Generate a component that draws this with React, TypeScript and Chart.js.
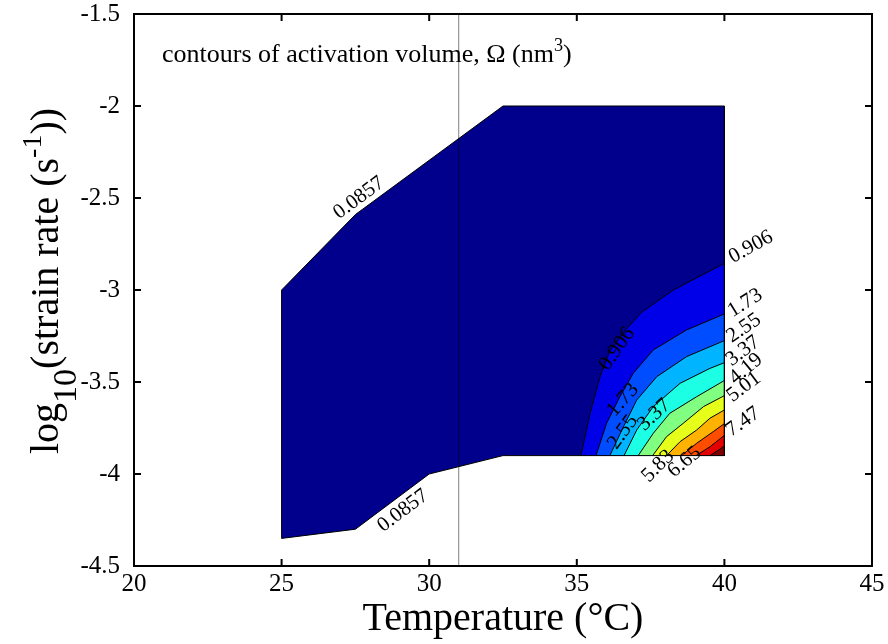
import React, { useEffect, useRef } from 'react';
import { Chart, registerables } from 'chart.js';

Chart.register(...registerables);

// ---------- data ----------
const X_TICKS = [20, 25, 30, 35, 40, 45];
const Y_TICKS = [-4.5, -4, -3.5, -3, -2.5, -2, -1.5];

const LEVELS = ['0.0857', '0.906', '1.73', '2.55', '3.37', '4.19', '5.01', '5.83', '6.65', '7.47', '8.29'];

// jet colours of the filled bands (lowest band first)
const BAND_COLORS = [
  'rgb(0,0,140)', 'rgb(0,0,232)', 'rgb(0,77,255)', 'rgb(0,180,255)', 'rgb(28,255,228)',
  'rgb(128,255,128)', 'rgb(230,255,26)', 'rgb(255,178,0)', 'rgb(255,77,0)', 'rgb(228,0,0)', 'rgb(128,0,0)',
];

// outer 0.0857 contour (data region boundary)
const OUTER_X = [25, 27.5, 32.5, 40, 40, 32.5, 30, 27.5, 25, 25];
const OUTER_Y = [-3.0, -2.59, -2.0, -2.0, -3.9, -3.9, -4.0, -4.3, -4.35, -3.0];

// corner of the region where the inner contours close
const CORNER_X = 40;
const CORNER_Y = -3.9;

// inner contour lines, bottom edge -> right edge
const C0906_X = [35.14, 35.45, 35.79, 36.12, 36.69, 37.2, 38.27, 40];
const C0906_Y = [-3.9, -3.67, -3.47, -3.33, -3.21, -3.12, -3.0, -2.855];
const C173_X = [35.65, 36.01, 36.46, 36.91, 37.59, 38.72, 40];
const C173_Y = [-3.9, -3.724, -3.58, -3.453, -3.326, -3.217, -3.13];
const C255_X = [36.12, 36.58, 37.03, 37.71, 38.72, 40];
const C255_Y = [-3.9, -3.743, -3.598, -3.471, -3.362, -3.275];
const C337_X = [36.6, 37.03, 37.59, 38.5, 39.51, 40];
const C337_Y = [-3.9, -3.761, -3.634, -3.507, -3.426, -3.395];
const C419_X = [37.08, 37.59, 38.15, 39.06, 40];
const C419_Y = [-3.9, -3.779, -3.67, -3.58, -3.492];
const C501_X = [37.57, 38.04, 38.61, 39.29, 40];
const C501_Y = [-3.9, -3.797, -3.724, -3.634, -3.574];
const C583_X = [38.04, 38.5, 39.06, 39.51, 40];
const C583_Y = [-3.9, -3.824, -3.761, -3.697, -3.652];
const C665_X = [38.55, 39.06, 39.62, 40];
const C665_Y = [-3.9, -3.833, -3.77, -3.726];
const C747_X = [39.04, 39.51, 40];
const C747_Y = [-3.9, -3.852, -3.79];
const C829_X = [39.51, 39.8, 40];
const C829_Y = [-3.9, -3.87, -3.848];

const INNER_X = [C0906_X, C173_X, C255_X, C337_X, C419_X, C501_X, C583_X, C665_X, C747_X, C829_X];
const INNER_Y = [C0906_Y, C173_Y, C255_Y, C337_Y, C419_Y, C501_Y, C583_Y, C665_Y, C747_Y, C829_Y];

// reference vertical line
const VLINE_X = 31;

// contour labels: text, anchor (data units), angle (deg)
const LABEL_TEXT = ['0.0857', '0.0857', '0.906', '1.73', '2.55', '3.37', '4.19', '5.01', '7.47', '0.906', '1.73', '2.55', '3.37', '5.83', '6.65'];
const LABEL_X = [27.62, 29.11, 40.9, 40.7, 40.66, 40.63, 40.73, 40.66, 40.63, 36.36, 36.56, 36.56, 37.62, 37.75, 38.65];
const LABEL_Y = [-2.5, -4.2, -2.766, -3.071, -3.207, -3.332, -3.429, -3.527, -3.717, -3.321, -3.598, -3.772, -3.679, -3.957, -3.935];
const LABEL_ANGLE = [-36.5, -37, -29, -32, -34, -37, -40, -37, -35, -55, -48, -54, -43, -45, -40];

const FONT = '"Liberation Serif", "Times New Roman", serif';

type Part = { t: string; s?: number; dy?: number };

function drawRich(ctx: CanvasRenderingContext2D, parts: Part[], x: number, y: number, size: number, align: 'left' | 'center', angle: number) {
  ctx.save();
  ctx.translate(x, y);
  ctx.rotate(angle);
  ctx.textAlign = 'left';
  ctx.textBaseline = 'alphabetic';
  ctx.fillStyle = '#000';
  let total = 0;
  const widths = parts.map((p) => {
    ctx.font = `${size * (p.s ?? 1)}px ${FONT}`;
    const w = ctx.measureText(p.t).width;
    total += w;
    return w;
  });
  let cx = align === 'center' ? -total / 2 : 0;
  parts.forEach((p, i) => {
    ctx.font = `${size * (p.s ?? 1)}px ${FONT}`;
    ctx.fillText(p.t, cx, (p.dy ?? 0) * size);
    cx += widths[i];
  });
  ctx.restore();
}

function polyPath(ctx: CanvasRenderingContext2D, chart: any, xs: number[], ys: number[]) {
  const { x, y } = chart.scales;
  ctx.beginPath();
  xs.forEach((xv, j) => {
    const px = x.getPixelForValue(xv);
    const py = y.getPixelForValue(ys[j]);
    if (j === 0) ctx.moveTo(px, py);
    else ctx.lineTo(px, py);
  });
  ctx.closePath();
}

const fillPlugin = {
  id: 'contourFill',
  beforeDatasetsDraw(chart: any) {
    const { ctx, chartArea } = chart;
    ctx.save();
    ctx.beginPath();
    ctx.rect(chartArea.left, chartArea.top, chartArea.right - chartArea.left, chartArea.bottom - chartArea.top);
    ctx.clip();
    polyPath(ctx, chart, OUTER_X, OUTER_Y);
    ctx.fillStyle = BAND_COLORS[0];
    ctx.fill();
    INNER_X.forEach((xs, k) => {
      polyPath(ctx, chart, [...xs, CORNER_X], [...INNER_Y[k], CORNER_Y]);
      ctx.fillStyle = BAND_COLORS[k + 1];
      ctx.fill();
    });
    ctx.restore();
  },
};

const decoPlugin = {
  id: 'deco',
  afterDraw(chart: any) {
    const { ctx, chartArea } = chart;
    const { left, right, top, bottom } = chartArea;
    const xs = chart.scales.x;
    const ys = chart.scales.y;
    ctx.save();
    // box
    ctx.strokeStyle = '#000';
    ctx.lineWidth = 2;
    ctx.strokeRect(left, top, right - left, bottom - top);
    // inward ticks on all sides
    const tl = 7;
    ctx.lineWidth = 2;
    ctx.beginPath();
    X_TICKS.forEach((v) => {
      const px = xs.getPixelForValue(v);
      ctx.moveTo(px, bottom);
      ctx.lineTo(px, bottom - tl);
      ctx.moveTo(px, top);
      ctx.lineTo(px, top + tl);
    });
    Y_TICKS.forEach((v) => {
      const py = ys.getPixelForValue(v);
      ctx.moveTo(left, py);
      ctx.lineTo(left + tl, py);
      ctx.moveTo(right, py);
      ctx.lineTo(right - tl, py);
    });
    ctx.stroke();
    ctx.restore();

    // axis titles
    drawRich(ctx, [{ t: 'Temperature (°C)' }], (left + right) / 2, 630, 40, 'center', 0);
    drawRich(
      ctx,
      [
        { t: 'log' },
        { t: '10', s: 0.85, dy: 0.45 },
        { t: '(strain rate (s' },
        { t: '-1', s: 0.7, dy: -0.42 },
        { t: '))' },
      ],
      58,
      281,
      40,
      'center',
      -Math.PI / 2,
    );
    // annotation
    drawRich(
      ctx,
      [{ t: 'contours of activation volume, Ω (nm' }, { t: '3', s: 0.7, dy: -0.42 }, { t: ')' }],
      xs.getPixelForValue(20.95),
      62,
      26,
      'left',
      0,
    );

    // contour labels
    ctx.save();
    ctx.fillStyle = '#000';
    ctx.font = `21px ${FONT}`;
    ctx.textAlign = 'center';
    ctx.textBaseline = 'middle';
    LABEL_TEXT.forEach((t, i) => {
      ctx.save();
      ctx.translate(xs.getPixelForValue(LABEL_X[i]), ys.getPixelForValue(LABEL_Y[i]));
      ctx.rotate((LABEL_ANGLE[i] * Math.PI) / 180);
      ctx.fillText(t, 0, 0);
      ctx.restore();
    });
    ctx.restore();
  },
};

function pts(xs: number[], ys: number[]) {
  return xs.map((x, i) => ({ x, y: ys[i] }));
}

export default function App() {
  const ref = useRef<HTMLCanvasElement>(null);
  useEffect(() => {
    document.body.style.margin = '0';
    const lineDs = (data: any[], color = '#000', width = 1) => ({
      data,
      showLine: true,
      borderColor: color,
      borderWidth: width,
      pointRadius: 0,
      fill: false,
      tension: 0,
    });
    const datasets: any[] = [lineDs(pts(OUTER_X, OUTER_Y))];
    INNER_X.forEach((xs, k) => datasets.push(lineDs(pts(xs, INNER_Y[k]))));
    datasets.push(lineDs(pts([VLINE_X, VLINE_X], [Y_TICKS[0], Y_TICKS[Y_TICKS.length - 1]]), 'rgba(0,0,0,0.5)', 1));

    const tickFont = { family: FONT, size: 25 };
    const chart = new Chart(ref.current as HTMLCanvasElement, {
      type: 'scatter',
      data: { datasets },
      options: {
        animation: false,
        responsive: false,
        devicePixelRatio: 1,
        events: [],
        layout: { padding: { top: 14, right: 16, left: 0, bottom: 0 } },
        plugins: { legend: { display: false }, tooltip: { enabled: false } },
        scales: {
          x: {
            type: 'linear',
            min: X_TICKS[0],
            max: X_TICKS[X_TICKS.length - 1],
            grid: { display: false },
            border: { display: false },
            ticks: { font: tickFont, color: '#000', padding: -5, maxRotation: 0, callback: (v: any) => String(v) },
            afterBuildTicks: (s: any) => {
              s.ticks = X_TICKS.map((v) => ({ value: v }));
            },
            afterFit: (s: any) => {
              s.height = 78;
              s.paddingLeft = 0;
              s.paddingRight = 0;
            },
          },
          y: {
            type: 'linear',
            min: Y_TICKS[0],
            max: Y_TICKS[Y_TICKS.length - 1],
            grid: { display: false },
            border: { display: false },
            ticks: { font: tickFont, color: '#000', padding: 6, callback: (v: any) => String(v) },
            afterBuildTicks: (s: any) => {
              s.ticks = Y_TICKS.map((v) => ({ value: v }));
            },
            afterFit: (s: any) => {
              s.width = 134;
              s.paddingTop = 0;
              s.paddingBottom = 0;
            },
          },
        },
      },
      plugins: [fillPlugin, decoPlugin],
    });
    return () => chart.destroy();
  }, []);
  return <canvas ref={ref} width={888} height={644} style={{ display: 'block', width: 888, height: 644 }} />;
}
